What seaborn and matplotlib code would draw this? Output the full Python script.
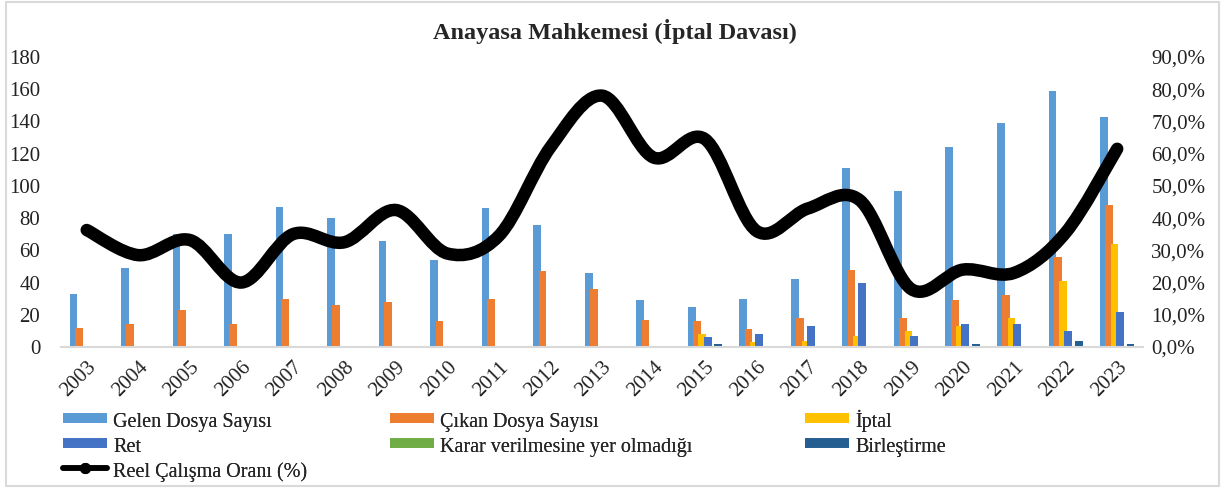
import numpy as np
import pandas as pd
import seaborn as sns
import matplotlib.pyplot as plt
from matplotlib.path import Path
from matplotlib.patches import PathPatch, Rectangle
from matplotlib.lines import Line2D
from matplotlib.ticker import FuncFormatter

# veriler
years = [str(y) for y in range(2003, 2024)]
gelen = [33, 49, 70, 70, 87, 80, 66, 54, 86, 76, 46, 29, 25, 30, 42, 111, 97, 124, 139, 159, 143]
cikan = [12, 14, 23, 14, 30, 26, 28, 16, 30, 47, 36, 17, 16, 11, 18, 48, 18, 29, 32, 56, 88]
iptal = [0, 0, 0, 0, 0, 0, 0, 0, 0, 0, 0, 0, 8, 3, 4, 7, 10, 13, 18, 41, 64]
ret = [0, 0, 0, 0, 0, 0, 0, 0, 0, 0, 0, 0, 6, 8, 13, 40, 7, 14, 14, 10, 22]
karar = [0] * 21
birlestirme = [0, 0, 0, 0, 0, 0, 0, 0, 0, 0, 0, 0, 2, 0, 0, 0, 0, 2, 0, 4, 2]
reel_oran = [36.3, 28.5, 33.2, 20.0, 35.0, 32.5, 42.5, 29.0, 34.5, 62.0, 78.0, 58.8, 64.5,
             36.0, 43.0, 45.6, 18.0, 24.0, 23.0, 35.5, 61.5]

series = ["Gelen Dosya Sayısı", "Çıkan Dosya Sayısı", "İptal", "Ret",
          "Karar verilmesine yer olmadığı", "Birleştirme"]
colors = ["#5B9BD5", "#ED7D31", "#FFC000", "#4472C4", "#70AD47", "#255E91"]

df = pd.DataFrame({"Yıl": years * 6,
                   "Seri": np.repeat(series, len(years)),
                   "Değer": gelen + cikan + iptal + ret + karar + birlestirme})

sns.set_style("white")
plt.rcParams["font.family"] = ["Liberation Serif", "DejaVu Serif"]

fig = plt.figure(figsize=(12.29, 4.91), dpi=100)
ax = fig.add_axes([0.0496, 0.2933, 0.8804, 0.5907])

sns.barplot(data=df, x="Yıl", y="Değer", hue="Seri", palette=colors,
            width=0.62, ax=ax, legend=False, saturation=1)

# Excel tarzı üst üste binen çubuklar
for p in ax.patches:
    c = p.get_x() + p.get_width() / 2
    w = p.get_width() * 1.45
    p.set_x(c - w / 2)
    p.set_width(w)
    p.set_linewidth(0)

ax.set_xlim(-0.5, 20.5)
ax.set_ylim(0, 180)
ax.set_yticks(range(0, 181, 20))
ax.set_xlabel("")
ax.set_ylabel("")
for s in ["top", "right", "left"]:
    ax.spines[s].set_visible(False)
ax.spines["bottom"].set_color("#D9D9D9")
ax.spines["bottom"].set_linewidth(1.5)
ax.tick_params(axis="y", length=0, pad=15, labelsize=15, labelcolor="#222222")
ax.tick_params(axis="x", length=0, pad=8, labelsize=15, labelcolor="#222222")
plt.setp(ax.get_xticklabels(), rotation=45, ha="right", rotation_mode="anchor")

# reel çalışma oranı - sağ eksen
ax2 = ax.twinx()
xs = np.arange(len(years))
ys = np.array(reel_oran)
sns.lineplot(x=xs, y=ys, ax=ax2, color="black", marker="o", markersize=5,
             markeredgecolor="black", linestyle="", legend=False)

# yumuşatılmış çizgi (Bezier)
n = len(xs)
verts = [(xs[0], ys[0])]
codes = [Path.MOVETO]
for i in range(n - 1):
    p0 = np.array([xs[max(i - 1, 0)], ys[max(i - 1, 0)]])
    p1 = np.array([xs[i], ys[i]])
    p2 = np.array([xs[i + 1], ys[i + 1]])
    p3 = np.array([xs[min(i + 2, n - 1)], ys[min(i + 2, n - 1)]])
    c1 = p1 + (p2 - p0) / 6
    c2 = p2 - (p3 - p1) / 6
    verts += [tuple(c1), tuple(c2), tuple(p2)]
    codes += [Path.CURVE4] * 3
ax2.add_patch(PathPatch(Path(verts, codes), facecolor="none", edgecolor="black",
                        lw=9, capstyle="round", joinstyle="round"))

ax2.set_ylim(0, 90)
ax2.set_yticks(range(0, 91, 10))
ax2.yaxis.set_major_formatter(FuncFormatter(lambda v, _: f"{v:.1f}%".replace(".", ",")))
for s in ["top", "right", "left", "bottom"]:
    ax2.spines[s].set_visible(False)
ax2.tick_params(axis="y", length=0, pad=6, labelsize=15, labelcolor="#222222")
ax2.set_ylabel("")

fig.text(0.5, 0.935, "Anayasa Mahkemesi (İptal Davası)", ha="center", va="center",
         fontsize=17.5, fontweight="bold")

# lejant - üç sütun, Excel'deki konumlarda
h = [Line2D([], [], color=c, lw=7, solid_capstyle="butt") for c in colors]
line_h = Line2D([], [], color="black", lw=4, marker="o", markersize=7)
cols = [([h[0], h[3], line_h], [series[0], series[3], "Reel Çalışma Oranı (%)"], 0.051),
        ([h[1], h[4]], [series[1], series[4]], 0.317),
        ([h[2], h[5]], [series[2], series[5]], 0.655)]
for hs, ls, x0 in cols:
    leg = fig.legend(hs, ls, loc="upper left", bbox_to_anchor=(x0, 0.166),
                     frameon=False, fontsize=14.5, handlelength=2.2, handleheight=1.2,
                     handletextpad=0.3, labelspacing=0.15, borderpad=0, borderaxespad=0)
    fig.add_artist(leg)

fig.add_artist(Rectangle((0.005, 0.01), 0.987, 0.985, transform=fig.transFigure,
                         fill=False, edgecolor="#D9D9D9", lw=1.5))

fig.savefig("out.png", dpi=100)
